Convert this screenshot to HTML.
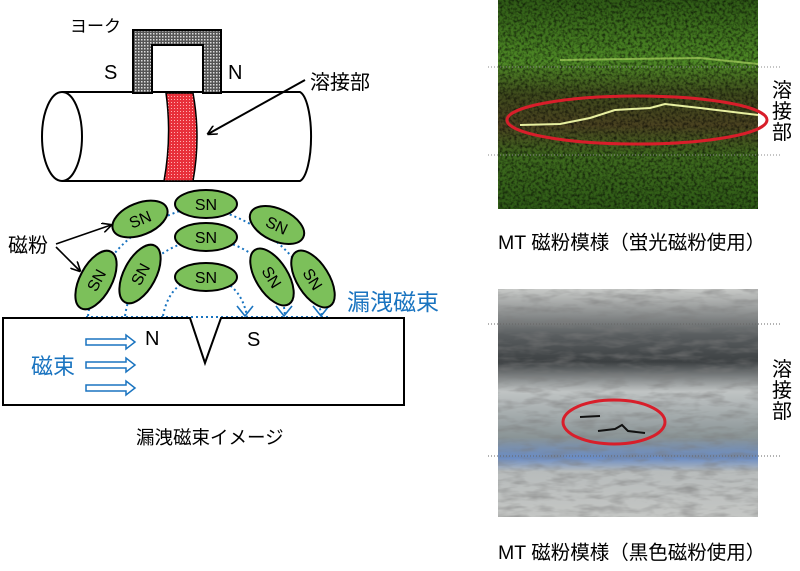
<!DOCTYPE html>
<html><head><meta charset="utf-8"><style>
body{margin:0;background:#fff}
svg{display:block}
text{font-family:"Liberation Sans","Noto Sans CJK JP",sans-serif}
</style></head><body>
<svg width="800" height="571" viewBox="0 0 800 571" xmlns="http://www.w3.org/2000/svg">
<defs>
<pattern id="chk" width="3" height="3" patternUnits="userSpaceOnUse"><rect width="3" height="3" fill="#555"/><rect width="1.5" height="1.5" fill="#ddd"/></pattern>
<pattern id="red" width="3" height="3" patternUnits="userSpaceOnUse"><rect width="3" height="3" fill="#e8303a"/><rect width="1" height="1" fill="#ffb0b0"/></pattern>
<linearGradient id="g1" x1="0" y1="0" x2="0" y2="1">
<stop offset="0" stop-color="#2f5a16"/><stop offset="0.3" stop-color="#4f8a26"/><stop offset="0.45" stop-color="#3e4a1c"/><stop offset="0.6" stop-color="#4a4220"/><stop offset="0.75" stop-color="#3e6a1e"/><stop offset="1" stop-color="#2e5a16"/></linearGradient>
<linearGradient id="g2" x1="0" y1="0" x2="0" y2="1">
<stop offset="0" stop-color="#c8cac8"/><stop offset="0.2" stop-color="#5a5e60"/><stop offset="0.32" stop-color="#3c4042"/><stop offset="0.45" stop-color="#c0c4c4"/><stop offset="0.65" stop-color="#8a9496"/><stop offset="0.74" stop-color="#6a8cc4"/><stop offset="0.8" stop-color="#b8bcbc"/><stop offset="1" stop-color="#c4c6c4"/></linearGradient>
<filter id="noise" x="0" y="0" width="100%" height="100%"><feTurbulence type="fractalNoise" baseFrequency="0.35" numOctaves="2" seed="3"/><feColorMatrix type="matrix" values="0 0 0 0 0  0 0 0 0 0  0 0 0 0 0  0 0 0 1.4 -0.55"/></filter>
<filter id="noise2" x="0" y="0" width="100%" height="100%"><feTurbulence type="fractalNoise" baseFrequency="0.04 0.15" numOctaves="3" seed="7"/><feColorMatrix type="matrix" values="0 0 0 0 0.2  0 0 0 0 0.2  0 0 0 0 0.2  0 0 0 1.2 -0.5"/></filter>
<marker id="ah" markerWidth="10" markerHeight="10" refX="9" refY="5" orient="auto" markerUnits="userSpaceOnUse"><path d="M0,0 L10,5 L0,10" fill="none" stroke="#000" stroke-width="1.6"/></marker>
</defs>

<!-- cylinder -->
<path d="M62,92 L300,92 A13,45 0 0 1 300,181 L62,181" fill="#fff" stroke="#000" stroke-width="2"/>
<ellipse cx="62" cy="136.5" rx="20" ry="44.5" fill="#fff" stroke="#000" stroke-width="2"/>
<path d="M166,93 Q172,137 164,181 L193,181 Q201,137 193,93 Z" fill="url(#red)" stroke="#000" stroke-width="1.5"/>
<!-- yoke -->
<path d="M133,30 L221,30 L221,93 L203,93 L203,45 L152,45 L152,93 L133,93 Z" fill="url(#chk)" stroke="#000" stroke-width="2"/>
<text x="70" y="32" font-size="17">ヨーク</text>
<text x="104" y="79" font-size="20">S</text>
<text x="228" y="79" font-size="20">N</text>
<text x="310" y="89" font-size="20">溶接部</text>
<line x1="305" y1="80" x2="208" y2="134" stroke="#000" stroke-width="2" marker-end="url(#ah)"/>

<!-- flux dotted -->
<g fill="none" stroke="#1a74c0" stroke-width="2" stroke-dasharray="2,3">
<path d="M88,316 Q100,230 200,205 Q300,230 322,316"/>
<path d="M125,316 Q135,250 206,237 Q280,250 285,316"/>
<path d="M163,316 Q170,278 206,277 Q240,280 247,316"/>
<line x1="86" y1="317" x2="330" y2="317"/>
</g>
<g fill="none" stroke="#1a74c0" stroke-width="1.6">
<path d="M237,306 L245,316 L253,306"/><path d="M276,306 L284,316 L292,306"/><path d="M313,306 L321,316 L329,306"/>
</g>
<!-- ellipses -->
<g fill="#7cc05a" stroke="#000" stroke-width="2">
<ellipse cx="206" cy="204" rx="31" ry="14"/>
<ellipse cx="206" cy="237" rx="31" ry="14"/>
<ellipse cx="206" cy="277" rx="31" ry="14"/>
<ellipse cx="140" cy="219" rx="29" ry="16" transform="rotate(-22 140 219)"/>
<ellipse cx="277" cy="225" rx="29" ry="16" transform="rotate(25 277 225)"/>
<ellipse cx="96" cy="280" rx="32" ry="16" transform="rotate(-62 96 280)"/>
<ellipse cx="140" cy="274" rx="32" ry="16" transform="rotate(-62 140 274)"/>
<ellipse cx="272" cy="277" rx="32" ry="16" transform="rotate(58 272 277)"/>
<ellipse cx="313" cy="279" rx="32" ry="16" transform="rotate(58 313 279)"/>
</g>
<g font-size="16" text-anchor="middle">
<text x="206" y="210">SN</text><text x="206" y="243">SN</text><text x="206" y="283">SN</text>
<text x="140" y="225" transform="rotate(-22 140 219)">SN</text>
<text x="277" y="231" transform="rotate(25 277 225)">SN</text>
<text x="96" y="286" transform="rotate(-62 96 280)">SN</text>
<text x="140" y="280" transform="rotate(-62 140 274)">SN</text>
<text x="272" y="283" transform="rotate(58 272 277)">SN</text>
<text x="313" y="285" transform="rotate(58 313 279)">SN</text>
</g>
<text x="8" y="252" font-size="20">磁粉</text>
<line x1="56" y1="244" x2="111" y2="225" stroke="#000" stroke-width="1.6" marker-end="url(#ah)"/>
<line x1="56" y1="247" x2="80" y2="271" stroke="#000" stroke-width="1.6" marker-end="url(#ah)"/>
<text x="347" y="310" font-size="23" fill="#1a74c0">漏洩磁束</text>

<!-- block -->
<path d="M3,318 L190,318 L205,363 L221,318 L404,318 L404,405 L3,405 Z" fill="#fff" stroke="#000" stroke-width="2"/>
<text x="145" y="345" font-size="20">N</text>
<text x="247" y="346" font-size="20">S</text>
<text x="31" y="374" font-size="22" fill="#1a74c0">磁束</text>
<g fill="none" stroke="#1a74c0" stroke-width="1.5">
<path d="M86,339 L126,339 L126,335 L135,342 L126,349 L126,345 L86,345 Z"/>
<path d="M86,362 L126,362 L126,358 L135,365 L126,372 L126,368 L86,368 Z"/>
<path d="M86,385 L126,385 L126,381 L135,388 L126,395 L126,391 L86,391 Z"/>
</g>
<text x="136" y="444" font-size="18.5">漏洩磁束イメージ</text>

<!-- photo 1 -->
<rect x="498" y="0" width="260" height="209" fill="url(#g1)"/>
<rect x="498" y="0" width="260" height="209" filter="url(#noise)"/>
<path d="M520,125 L560,124 L590,118 L615,110 L650,108 L665,104 L700,108 L758,115" stroke="#e8f0a0" stroke-width="2" fill="none"/>
<path d="M560,60 L700,58 L758,64" stroke="#a8d060" stroke-width="2" fill="none" opacity="0.7"/>
<g stroke="#888" stroke-width="1" stroke-dasharray="1,2"><line x1="488" y1="67" x2="780" y2="67"/><line x1="488" y1="155" x2="780" y2="155"/></g>
<ellipse cx="637" cy="120" rx="130" ry="24" fill="none" stroke="#d81e2a" stroke-width="3"/>
<g font-size="20"><text x="772" y="97">溶</text><text x="772" y="118">接</text><text x="772" y="139">部</text></g>
<text x="498" y="249" font-size="19.5">MT 磁粉模様（蛍光磁粉使用）</text>

<!-- photo 2 -->
<rect x="498" y="289" width="260" height="228" fill="url(#g2)"/>
<rect x="498" y="289" width="260" height="228" filter="url(#noise2)"/>
<path d="M580,417 L600,416 M598,431 L615,429 L622,425 L628,431 L645,433" stroke="#111" stroke-width="2" fill="none"/>
<g stroke="#666" stroke-width="1" stroke-dasharray="1,2"><line x1="488" y1="324" x2="780" y2="324"/><line x1="488" y1="456" x2="780" y2="456"/></g>
<ellipse cx="614" cy="422" rx="51" ry="22" fill="none" stroke="#d81e2a" stroke-width="3"/>
<g font-size="20"><text x="772" y="376">溶</text><text x="772" y="397">接</text><text x="772" y="418">部</text></g>
<text x="498" y="559" font-size="19.5">MT 磁粉模様（黒色磁粉使用）</text>
</svg>
</body></html>
